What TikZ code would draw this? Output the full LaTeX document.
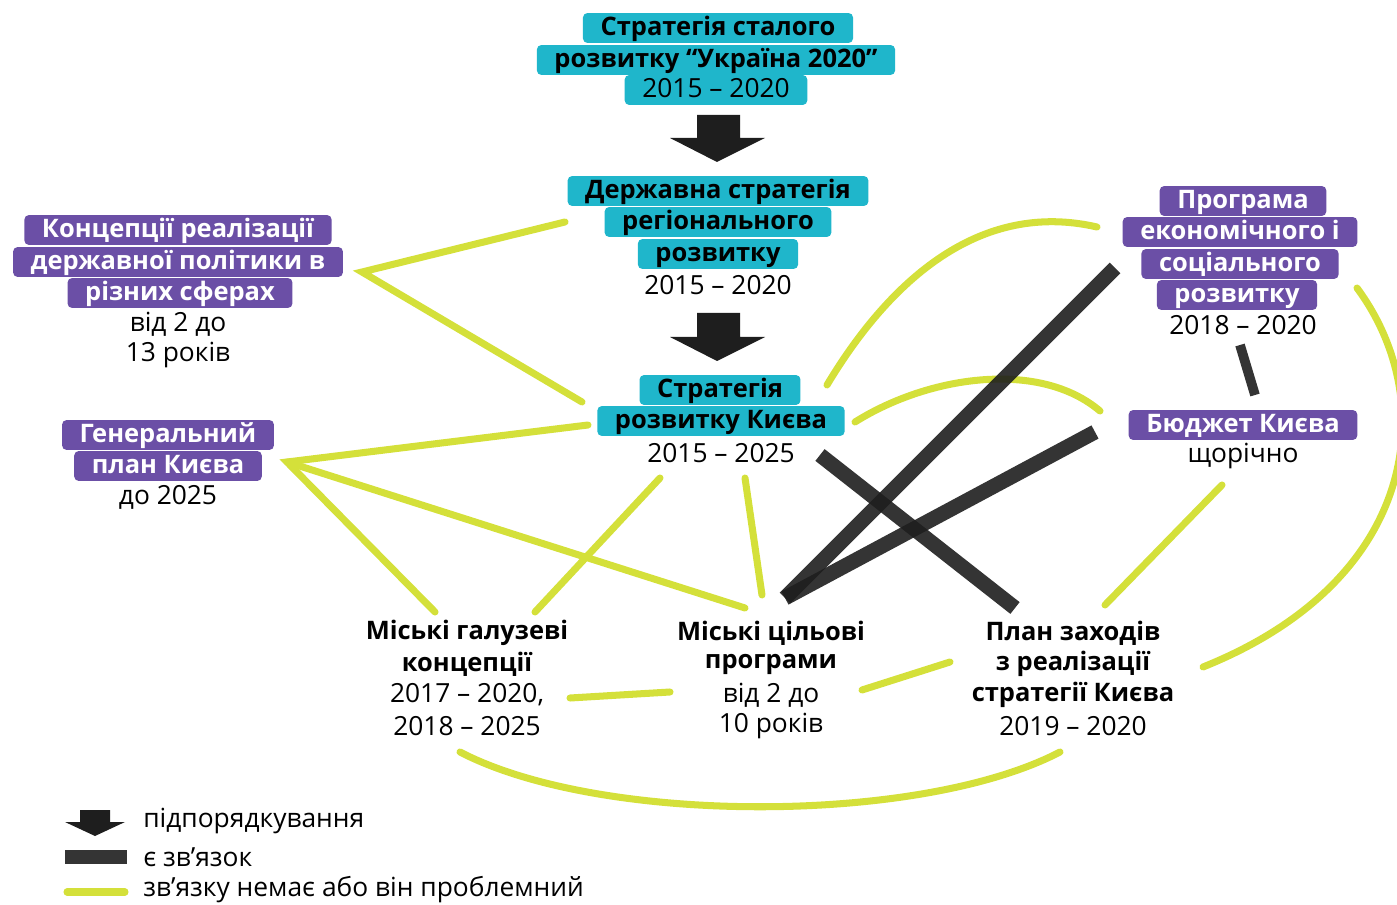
\documentclass[tikz,border=0pt]{standalone}
\usepackage{fontspec}
\setmainfont{Open Sans}
\usetikzlibrary{positioning}
\definecolor{cyanc}{HTML}{1FB6CB}
\definecolor{purplec}{HTML}{6B4FA6}
\definecolor{yellowc}{HTML}{D4E03A}
\definecolor{blackc}{HTML}{1E1E1E}
\newcommand\hdfont{\bfseries\fontsize{14.5}{17}\selectfont}
\newcommand\rgfont{\fontsize{15}{17}\selectfont}
\tikzset{
  barline/.style={text height=11.5pt, text depth=3.5pt, inner ysep=1pt, inner xsep=10pt, rounded corners=2.5pt},
  cbar/.style={barline, fill=cyanc, text=black, font=\hdfont},
  cbarrg/.style={barline, fill=cyanc, text=black, font=\rgfont},
  pbar/.style={barline, fill=purplec, text=white, font=\hdfont},
  plain/.style={font=\rgfont, text=black, inner sep=0pt},
  bold/.style={font=\hdfont, text=black, inner sep=0pt},
  legtext/.style={font=\rgfont, text=black, inner sep=0pt, anchor=west},
  yline/.style={draw=yellowc, line width=4pt, line cap=round},
  bline/.style={draw=blackc, line width=8.5pt, line cap=butt, opacity=.9},
}
\begin{document}
\begin{tikzpicture}[x=0.02cm, y=-0.02cm]
\useasboundingbox (0,0) rectangle (1397,905);

%top
\node[cbar] (ukr1) at (718, 28) {Стратегія сталого};
\node[cbar] (ukr2) at (716, 60) {розвитку “Україна 2020”};
\node[cbarrg] (ukr3) at (716, 90) {2015 – 2020};
\fill[blackc] (697,115) -- (740,115) -- (740,138) -- (765,138) -- (717,162) -- (670,138) -- (697,138) -- cycle;

%state strategy
\node[cbar] (derzh1) at (718, 191) {Державна стратегія};
\node[cbar] (derzh2) at (718, 222) {регіонального};
\node[cbar] (derzh3) at (718, 254) {розвитку};
\node[plain] (derzh4) at (718, 285) {2015 – 2020};
\fill[blackc] (697,313) -- (740,313) -- (740,337) -- (765,337) -- (717,361) -- (670,337) -- (697,337) -- cycle;

%kyiv strategy
\node[cbar] (kyiv1) at (720, 390) {Стратегія};
\node[cbar] (kyiv2) at (721, 421) {розвитку Києва};
\node[plain] (kyiv3) at (721, 453) {2015 – 2025};

%concepts
\node[pbar] (konc1) at (178, 230) {Концепції реалізації};
\node[pbar] (konc2) at (178, 262) {державної політики в};
\node[pbar] (konc3) at (180, 293) {різних сферах};
\node[plain] (konc4) at (178, 324) {від 2 до};
\node[plain] (konc5) at (178, 355) {13 років};

%general plan
\node[pbar] (gen1) at (168, 435) {Генеральний};
\node[pbar] (gen2) at (168, 466) {план Києва};
\node[plain] (gen3) at (168, 497) {до 2025};

%programme
\node[pbar] (prog1) at (1243, 201) {Програма};
\node[pbar] (prog2) at (1240, 232) {економічного і};
\node[pbar] (prog3) at (1240, 264) {соціального};
\node[pbar] (prog4) at (1237, 295) {розвитку};
\node[plain] (prog5) at (1243, 325) {2018 – 2020};

%budget
\node[pbar] (bud1) at (1243, 425) {Бюджет Києва};
\node[plain] (bud2) at (1243, 456) {щорічно};

%bottom row
\node[bold] (gal1) at (467, 633) {Міські галузеві};
\node[bold] (gal2) at (467, 664) {концепції};
\node[plain] (gal3) at (467, 695) {2017 – 2020,};
\node[plain] (gal4) at (467, 726) {2018 – 2025};

\node[bold] (cil1) at (771, 633) {Міські цільові};
\node[bold] (cil2) at (771, 664) {програми};
\node[plain] (cil3) at (771, 695) {від 2 до};
\node[plain] (cil4) at (771, 726) {10 років};

\node[bold] (plan1) at (1073, 633) {План заходів};
\node[bold] (plan2) at (1073, 664) {з реалізації};
\node[bold] (plan3) at (1073, 695) {стратегії Києва};
\node[plain] (plan4) at (1073, 726) {2019 – 2020};

%line ends
\coordinate (konc-e) at (362, 272);
\coordinate (gen-e) at (287, 462);
\coordinate (derzh-w) at (565, 222);
\coordinate (kyiv-nw) at (582, 402);
\coordinate (kyiv-w) at (588, 425);
\coordinate (kyiv-sw) at (660, 478);
\coordinate (kyiv-s) at (745, 478);
\coordinate (kyiv-ne) at (827, 385);
\coordinate (kyiv-e) at (855, 422);
\coordinate (kyiv-se) at (820, 455);
\coordinate (gal-nw) at (435, 612);
\coordinate (gal-ne) at (535, 612);
\coordinate (gal-e) at (570, 698);
\coordinate (gal-s) at (460, 752);
\coordinate (cil-nw) at (745, 608);
\coordinate (cil-n) at (762, 595);
\coordinate (cil-ne) at (785, 598);
\coordinate (cil-w) at (670, 692);
\coordinate (cil-e) at (862, 690);
\coordinate (plan-w) at (950, 662);
\coordinate (plan-nw) at (1015, 608);
\coordinate (plan-n) at (1105, 605);
\coordinate (plan-s) at (1060, 752);
\coordinate (plan-e) at (1203, 667);
\coordinate (prog-w) at (1097, 227);
\coordinate (prog-sw) at (1115, 268);
\coordinate (prog-s) at (1240, 345);
\coordinate (prog-e) at (1357, 288);
\coordinate (bud-n) at (1255, 395);
\coordinate (bud-w) at (1100, 411);
\coordinate (bud-sw) at (1095, 432);
\coordinate (bud-s) at (1222, 485);

%no link or problem
\draw[yline] (derzh-w) -- (konc-e) -- (kyiv-nw);
\draw[yline] (kyiv-w) -- (gen-e) -- (gal-nw);
\draw[yline] (gen-e) -- (cil-nw);
\draw[yline] (kyiv-sw) -- (gal-ne);
\draw[yline] (kyiv-s) -- (cil-n);
\draw[yline] (kyiv-ne) .. controls (890, 280) and (980, 200) .. (prog-w);
\draw[yline] (kyiv-e) .. controls (930, 375) and (1040, 360) .. (bud-w);
\draw[yline] (bud-s) -- (plan-n);
\draw[yline] (gal-e) -- (cil-w);
\draw[yline] (cil-e) -- (plan-w);
\draw[yline] (gal-s) .. controls (600, 825) and (920, 825) .. (plan-s);
\draw[yline] (prog-e) .. controls (1440, 400) and (1420, 580) .. (plan-e);

%link
\draw[bline] (prog-sw) -- (cil-ne);
\draw[bline] (bud-sw) -- (cil-ne);
\draw[bline] (kyiv-se) -- (plan-nw);
\draw[bline, line width=5.5pt] (prog-s) -- (bud-n);

%legend
\fill[blackc] (80,810) -- (110,810) -- (110,822) -- (125,822) -- (95,836) -- (65,822) -- (80,822) -- cycle;
\node[legtext] (leg1) at (143, 821) {підпорядкування};
\coordinate (leg2-a) at (65, 857);
\coordinate (leg2-b) at (127, 857);
\draw[bline] (leg2-a) -- (leg2-b);
\node[legtext] (leg2) at (143, 857) {є зв’язок};
\coordinate (leg3-a) at (67, 892);
\coordinate (leg3-b) at (125, 892);
\draw[yline] (leg3-a) -- (leg3-b);
\node[legtext] (leg3) at (143, 890) {зв’язку немає або він проблемний};
\end{tikzpicture}
\end{document}
